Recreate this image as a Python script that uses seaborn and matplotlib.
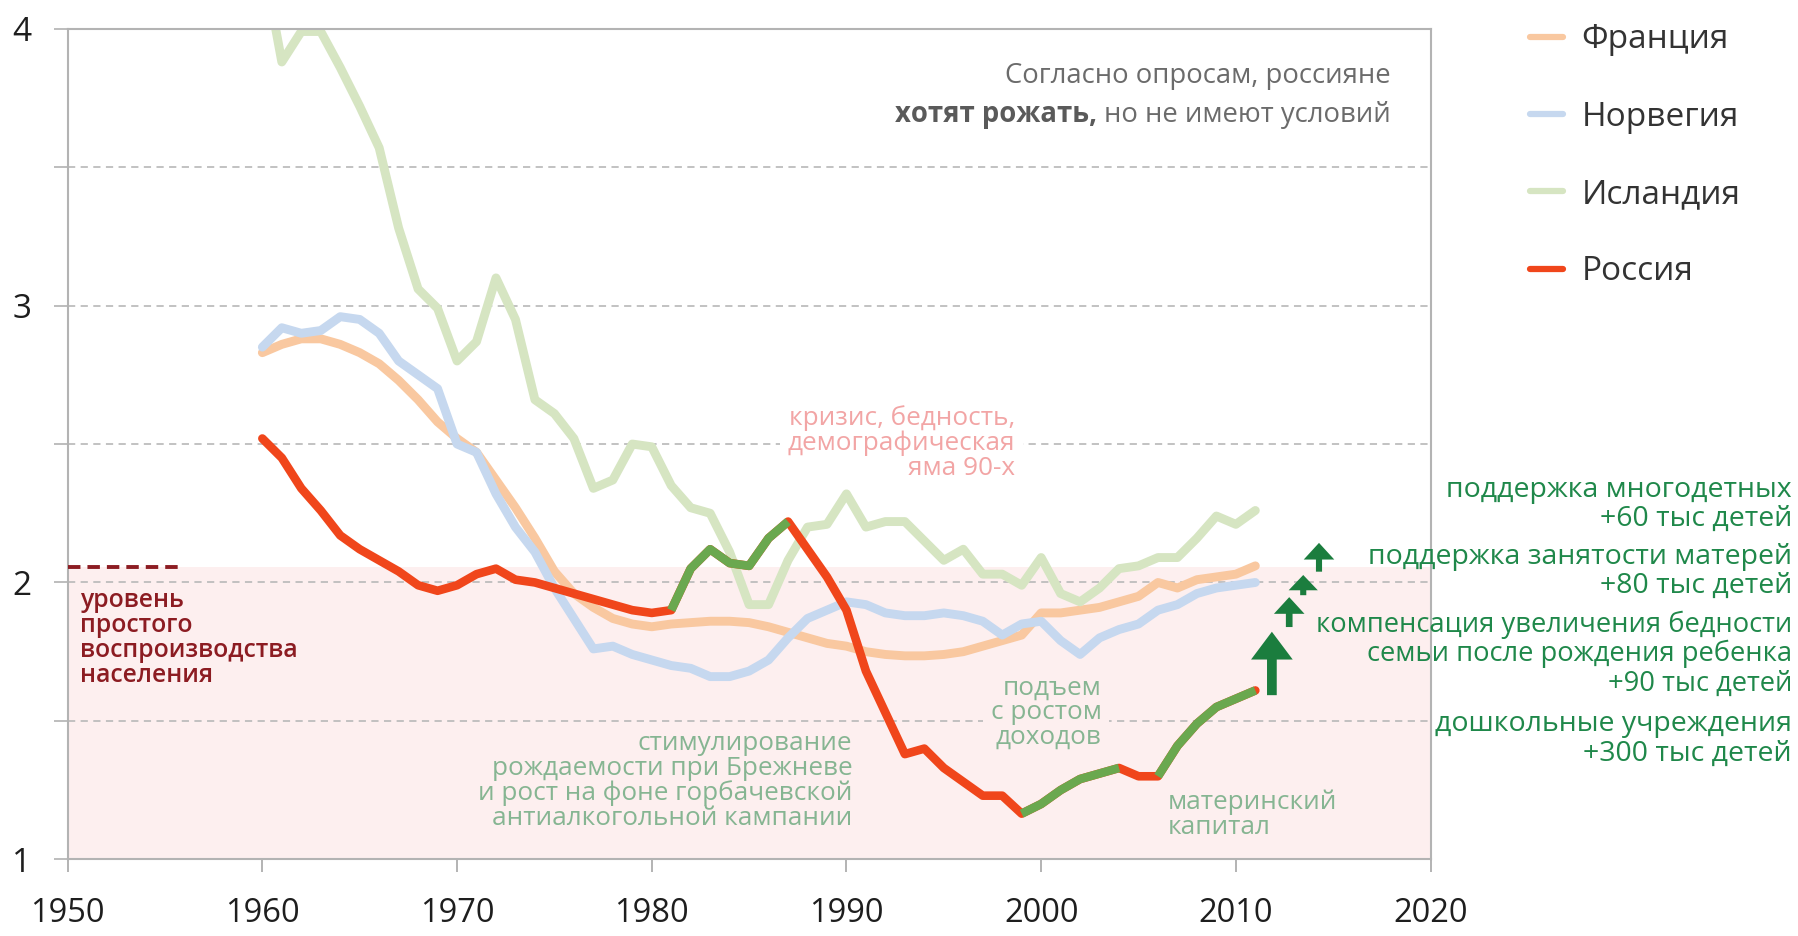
import pandas as pd
import matplotlib
matplotlib.use('Agg')
import matplotlib.pyplot as plt
import seaborn as sns
from matplotlib.lines import Line2D

# total fertility rate
years = list(range(1960, 2012))
france = [2.83, 2.86, 2.88, 2.88, 2.86, 2.83, 2.79, 2.73, 2.66, 2.58,
          2.52, 2.47, 2.37, 2.27, 2.16, 2.04, 1.96, 1.91, 1.87, 1.85,
          1.84, 1.85, 1.855, 1.86, 1.86, 1.855, 1.84, 1.82, 1.80, 1.78,
          1.77, 1.75, 1.74, 1.735, 1.735, 1.74, 1.75, 1.77, 1.79, 1.81,
          1.89, 1.89, 1.90, 1.91, 1.93, 1.95, 2.00, 1.98, 2.01, 2.02,
          2.03, 2.06]
norway = [2.85, 2.92, 2.90, 2.91, 2.96, 2.95, 2.90, 2.80, 2.75, 2.70,
          2.50, 2.47, 2.32, 2.20, 2.11, 1.98, 1.87, 1.76, 1.77, 1.74,
          1.72, 1.70, 1.69, 1.66, 1.66, 1.68, 1.72, 1.80, 1.87, 1.90,
          1.93, 1.92, 1.89, 1.88, 1.88, 1.89, 1.88, 1.86, 1.81, 1.85,
          1.86, 1.79, 1.74, 1.80, 1.83, 1.85, 1.90, 1.92, 1.96, 1.98,
          1.99, 2.00]
iceland = [4.26, 3.88, 3.99, 3.99, 3.86, 3.72, 3.57, 3.28, 3.06, 2.99,
           2.80, 2.87, 3.10, 2.95, 2.66, 2.61, 2.52, 2.34, 2.37, 2.50,
           2.49, 2.35, 2.27, 2.25, 2.11, 1.92, 1.92, 2.08, 2.20, 2.21,
           2.32, 2.20, 2.22, 2.22, 2.15, 2.08, 2.12, 2.03, 2.03, 1.99,
           2.09, 1.96, 1.93, 1.98, 2.05, 2.06, 2.09, 2.09, 2.16, 2.24,
           2.21, 2.26]
russia = [2.52, 2.45, 2.34, 2.26, 2.17, 2.12, 2.08, 2.04, 1.99, 1.97,
          1.99, 2.03, 2.05, 2.01, 2.00, 1.98, 1.96, 1.94, 1.92, 1.90,
          1.89, 1.90, 2.05, 2.12, 2.07, 2.06, 2.16, 2.22, 2.12, 2.02,
          1.90, 1.68, 1.53, 1.38, 1.40, 1.33, 1.28, 1.23, 1.23, 1.165,
          1.20, 1.25, 1.29, 1.31, 1.33, 1.30, 1.30, 1.41, 1.49, 1.55,
          1.58, 1.61]
countries = ['Франция', 'Норвегия', 'Исландия', 'Россия']

# periods of growth in Russia (drawn green)
growth_periods = [(1981, 1987), (1999, 2004), (2006, 2011)]
replacement_level = 2.057

# expected effect of measures (arrows)
arrow_x = [2011.85, 2012.74, 2013.46, 2014.27]
arrow_from = [1.593, 1.839, 1.954, 2.039]
arrow_to = [1.822, 1.947, 2.027, 2.143]

measures = ['поддержка многодетных\n+60 тыс детей',
            'поддержка занятости матерей\n+80 тыс детей',
            'компенсация увеличения бедности\nсемьи после рождения ребенка\n+90 тыс детей',
            'дошкольные учреждения\n+300 тыс детей']

palette = {'Франция': '#f9c8a0', 'Норвегия': '#c6d8ef',
           'Исландия': '#d6e5c2', 'Россия': '#f0461b'}
green = '#6aa84f'

df = pd.DataFrame({
    'year': years * 4,
    'tfr': france + norway + iceland + russia,
    'country': [c for c in countries for _ in years],
})
rus = df[df.country == 'Россия']
seg = pd.concat([rus[(rus.year >= a) & (rus.year <= b)].assign(period=i)
                 for i, (a, b) in enumerate(growth_periods)])

sns.set_theme(style='white')
plt.rcParams['font.family'] = ['Open Sans', 'DejaVu Sans']

fig = plt.figure(figsize=(17.99, 9.36), dpi=100)
ax = fig.add_axes([0.0376, 0.0819, 0.7576, 0.8874])

ax.axhspan(1, replacement_level, color='#fdefef', lw=0, zorder=0)
ax.axhline(replacement_level, xmin=0, xmax=0.084, color='#8c1c22', lw=2.8,
           dashes=(3.2, 1.8), zorder=3)

sns.lineplot(data=df[df.country != 'Россия'], x='year', y='tfr', hue='country',
             palette=palette, lw=6.4, legend=False, ax=ax, estimator=None,
             solid_capstyle='round', solid_joinstyle='round')
sns.lineplot(data=rus, x='year', y='tfr', color=palette['Россия'], lw=6.2,
             ax=ax, estimator=None, solid_capstyle='round', solid_joinstyle='round')
sns.lineplot(data=seg, x='year', y='tfr', units='period', color=green, lw=6.2,
             ax=ax, estimator=None, solid_capstyle='butt', solid_joinstyle='round')

arrow_sizes = [(20, 30, 7), (12, 22, 4.8), (11, 21, 4.4), (12, 22, 4.4)]
for x, y0, y1, (hl, hw, tw) in zip(arrow_x, arrow_from, arrow_to, arrow_sizes):
    ax.annotate('', xy=(x, y1), xytext=(x, y0), annotation_clip=False,
                arrowprops=dict(arrowstyle=f'simple,head_length={hl},head_width={hw},tail_width={tw}',
                                mutation_scale=1, color='#1b7d3e', lw=0,
                                shrinkA=0, shrinkB=0), zorder=4)

ax.set_xlim(1950, 2020)
ax.set_ylim(1, 4)
ax.set_xticks(range(1950, 2021, 10))
ax.set_yticks([1, 1.5, 2, 2.5, 3, 3.5, 4])
ax.set_yticklabels(['1', '', '2', '', '3', '', '4'])
ax.set_xlabel('')
ax.set_ylabel('')
ax.set_axisbelow(True)
ax.yaxis.grid(True, ls=(0, (4, 3)), color='#bdbdbd', lw=1.3)
ax.xaxis.grid(False)
for s in ax.spines.values():
    s.set_color('#b3b3b3')
    s.set_linewidth(1.5)
ax.tick_params(axis='x', bottom=True, length=9, width=1.4, color='#b3b3b3',
               pad=18, labelsize=23.5, labelcolor='#1e1e1e')
ax.tick_params(axis='y', left=True, length=10, width=1.4, color='#bdbdbd',
               pad=16, labelsize=24, labelcolor='#1e1e1e')

# annotations
ax.text(1950.63, 1.801, 'уровень\nпростого\nвоспроизводства\nнаселения',
        ha='left', va='center', fontsize=17.8, fontweight='semibold',
        color='#8c1c22', linespacing=1.0)
ax.text(1998.67, 2.504, 'кризис, бедность,\nдемографическая\nяма 90-х',
        ha='right', va='center', fontsize=18.8, color='#f2a5a5', linespacing=0.98,
        multialignment='right',
        bbox=dict(boxstyle='square,pad=0.3', fc='white', ec='none'), zorder=3)
ax.text(1990.3, 1.282, 'стимулирование\nрождаемости при Брежневе\nи рост на фоне горбачевской\nантиалкогольной кампании',
        ha='right', va='center', fontsize=18.8, color='#86b592', linespacing=0.98,
        multialignment='right')
ax.text(2003.1, 1.530, 'подъем\nс ростом\nдоходов', ha='right', va='center',
        fontsize=18.8, color='#86b592', linespacing=0.98, multialignment='right',
        bbox=dict(boxstyle='square,pad=0.3', fc='#fdefef', ec='none'), zorder=3)
ax.text(2006.5, 1.161, 'материнский\nкапитал', ha='left', va='center',
        fontsize=18.8, color='#86b592', linespacing=0.98)

ax.text(2017.95, 3.843, 'Согласно опросам, россияне', ha='right',
        va='center_baseline', fontsize=19.8, color='#6b6b6b')
t2 = ax.text(2017.95, 3.702, 'но не имеют условий', ha='right',
             va='center_baseline', fontsize=19.8, color='#6b6b6b')
fig.canvas.draw()
bb = t2.get_window_extent(fig.canvas.get_renderer())
x_left = ax.transData.inverted().transform((bb.x0, bb.y0))[0]
ax.annotate('хотят рожать,', xy=(x_left, 3.702), xytext=(-7, 0),
            textcoords='offset pixels', ha='right', va='center_baseline',
            fontsize=19.8, fontweight='bold', color='#5a5a5a')

measure_sizes = [20.5, 20.5, 19.7, 20.5]
for txt, y, fs in zip(measures, [0.4607, 0.3895, 0.3013, 0.2106], measure_sizes):
    fig.text(0.9961, y, txt, ha='right', va='center', fontsize=fs,
             color='#1f884a', linespacing=1.05, multialignment='right')

handles = [Line2D([], [], color=palette[c], lw=4.5, solid_capstyle='round')
           for c in countries]
fig.legend(handles, countries, loc='upper left', bbox_to_anchor=(0.8505, 0.975),
           frameon=False, fontsize=24, handlelength=1.0, handletextpad=0.55,
           labelspacing=1.33, borderpad=0, borderaxespad=0, labelcolor='#333333')

fig.savefig('out.png', dpi=100)
